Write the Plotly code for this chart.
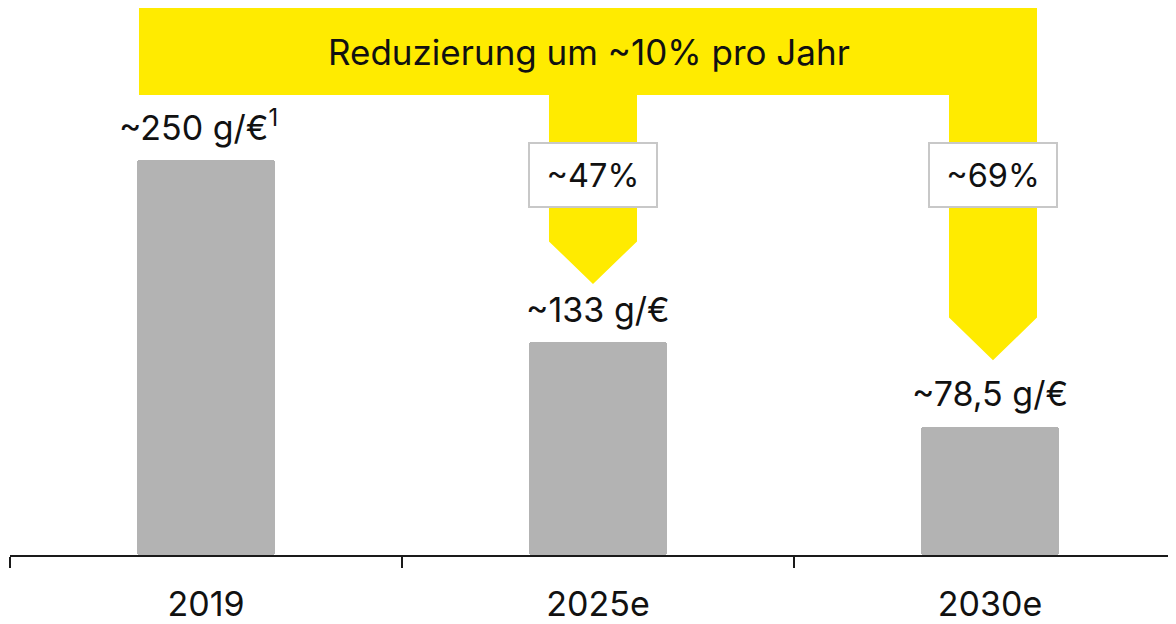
import plotly.graph_objects as go

categories = ["2019", "2025e", "2030e"]
values = [250, 133, 78.5]
value_labels = ["~250 g/€<sup>1</sup>", "~133 g/€", "~78,5 g/€"]
pct_labels = ["~47%", "~69%"]
banner_text = "Reduzierung um ~10% pro Jahr"

# page body has an 8px margin, so the figure is drawn 8px in from the top-left
OFF = 8
W, H = 1176 - OFF, 624 - OFF
PAGE_AXIS_Y = 561
L = 10 - OFF
PW = 1166
PH = PAGE_AXIS_Y - OFF
B = H - PH

YELLOW = "#FFEB00"
GRAY = "#b3b3b3"
FONT = "Inter"
TXT = "#111111"


def px(x):
    return (x - OFF - L) / PW


def py(y):
    return (PAGE_AXIS_Y - y) / PH


fig = go.Figure()
fig.add_trace(go.Bar(
    x=categories, y=[v + 4 for v in values], base=-4,
    width=0.35, marker=dict(color=GRAY, cornerradius=3, line=dict(width=0)),
    hoverinfo="skip",
))

pts = [(139, 8), (1037, 8), (1037, 321), (993, 364), (949, 321), (949, 96),
       (637, 96), (637, 244), (593, 287), (549, 244), (549, 96), (139, 96)]
path = "M " + " L ".join(f"{px(a):.5f},{py(b):.5f}" for a, b in pts) + " Z"
fig.add_shape(type="path", path=path, xref="paper", yref="paper",
              fillcolor=YELLOW, line=dict(width=0), layer="below")

annotations = []
xshifts = [-8, 0, 0]
for i, (v, t) in enumerate(zip(values, value_labels)):
    annotations.append(dict(x=i, y=v + 4, xref="x", yref="y", text=t, showarrow=False,
                            xanchor="center", yanchor="bottom", yshift=4, xshift=xshifts[i],
                            font=dict(family=FONT, size=34, color=TXT)))

annotations.append(dict(x=px(589), y=py(52), xref="paper", yref="paper", text=banner_text,
                        xanchor="center", yanchor="middle",
                        showarrow=False, font=dict(family=FONT, size=35, color=TXT)))

for cx, cy, t in [(593, 177, pct_labels[0]), (993, 176.5, pct_labels[1])]:
    annotations.append(dict(x=px(cx), y=py(cy), xref="paper", yref="paper", text=t,
                            xanchor="center", yanchor="middle",
                            showarrow=False, width=126, height=62, borderpad=0,
                            bgcolor="white", bordercolor="#c8c8c8", borderwidth=2,
                            font=dict(family=FONT, size=32.5, color=TXT)))

fig.update_layout(
    width=W, height=H,
    margin=dict(l=L, r=0, t=0, b=B),
    plot_bgcolor="white", paper_bgcolor="white",
    showlegend=False,
    annotations=annotations,
    bargap=0,
)
fig.update_xaxes(
    type="category", range=[-0.5, -0.5 + PW / 392],
    showline=True, linecolor="#1a1a1a", linewidth=1.5,
    ticks="outside", tickson="boundaries", ticklen=11, tickwidth=1.5, tickcolor="#1a1a1a",
    ticklabelstandoff=18,
    tickfont=dict(family=FONT, size=34, color=TXT),
    showgrid=False, zeroline=False,
)
fig.update_yaxes(range=[-4, -4 + PH / 1.5726], visible=False, showgrid=False, zeroline=False)

fig.write_html("out.html")
